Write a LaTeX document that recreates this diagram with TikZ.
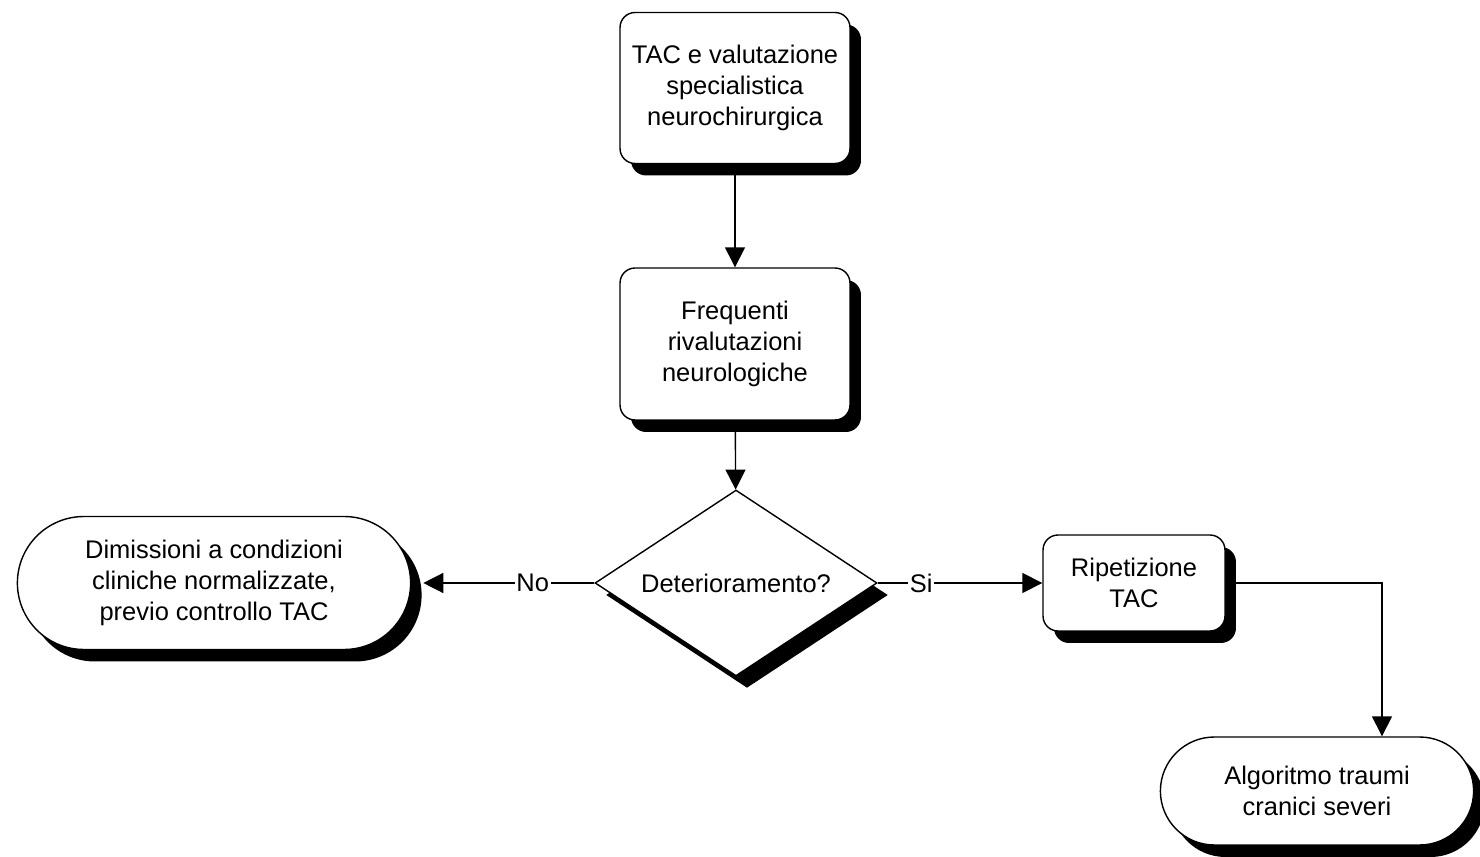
\documentclass[tikz,border=0pt]{standalone}
\usepackage{fontspec}
\setmainfont{Liberation Sans}
\usetikzlibrary{arrows.meta,shapes.geometric,shapes.misc,shadows}

\begin{document}
\begin{tikzpicture}[x=0.02cm,y=-0.02cm,->,>={Triangle[length=0.4cm,width=0.4cm]},line width=0.8pt,
            every node/.style={font=\fontsize{14.5}{17.6}\selectfont,align=center},
            blacksh/.style={drop shadow={shadow xshift=0.22cm,shadow yshift=-0.24cm,fill=black,opacity=1}},
            proc/.style={shape=rectangle,draw=black,fill=white,rounded corners=0.3cm,blacksh},
            term/.style={shape=rounded rectangle,draw=black,fill=white,blacksh},
            dec/.style={shape=diamond,aspect=1.5,draw=black,fill=white,blacksh,inner sep=0pt},
            lbl/.style={fill=white,inner sep=1pt}]
            \useasboundingbox (0,0) rectangle (1480,857);
            \node[proc,minimum width=4.6cm,minimum height=3.02cm](TAC)at(735,88){TAC e valutazione\\specialistica\\neurochirurgica};
            \node[proc,minimum width=4.6cm,minimum height=3.04cm](Riv)at(735,344){Frequenti\\rivalutazioni\\neurologiche};
            \node[dec,minimum width=5.64cm,minimum height=3.72cm](Det)at(736,583){Deterioramento?};
            \node[term,minimum width=8.1cm,minimum height=2.66cm](Dim)at(214,583){Dimissioni a condizioni\\cliniche normalizzate,\\previo controllo TAC};
            \node[proc,minimum width=3.64cm,minimum height=1.92cm](Rip)at(1134,583){Ripetizione\\TAC};
            \node[term,minimum width=6.5cm,minimum height=2.16cm](Alg)at(1317,791){Algoritmo traumi\\cranici severi};
            \path[](TAC) edge (Riv)
            (Riv) edge (Det)
            (Det.west) edge node[lbl,pos=0.36]{No} ([xshift=0.24cm]Dim.east)
            (Det.east) edge node[lbl,pos=0.265]{Si} (Rip.west);
            \draw (Rip.east) -| ([xshift=1.3cm]Alg.north);
        \end{tikzpicture}
\end{document}
